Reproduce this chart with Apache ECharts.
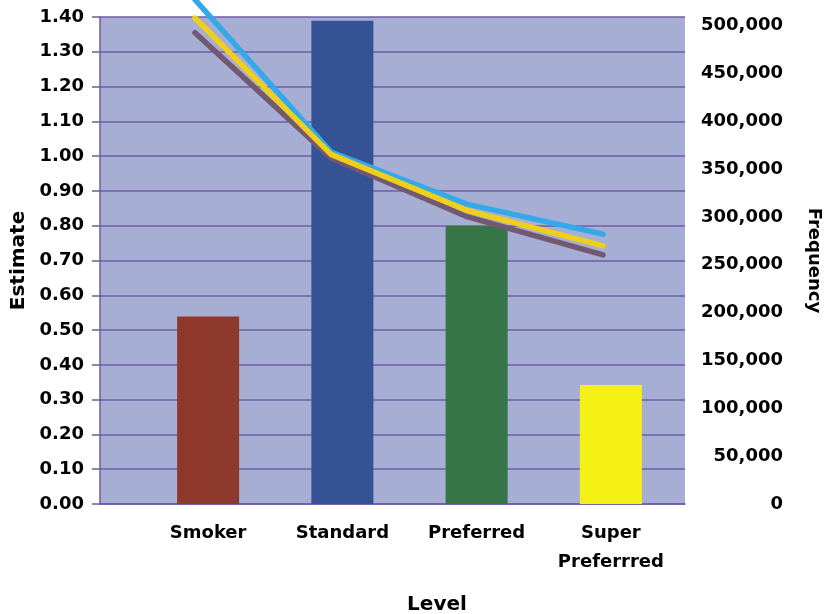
<!DOCTYPE html>
<html>
<head>
<meta charset="utf-8">
<script src="https://cdn.jsdelivr.net/npm/echarts@6/dist/echarts.min.js"></script>
<style>html,body{margin:0;padding:0;background:#fff}#c{width:830px;height:614px}</style>
</head>
<body>
<div id="c"></div>
<script>
const categories = ['Smoker', 'Standard', 'Preferred', 'Super Preferrred'];
const frequency = [196000, 505000, 290500, 124300];
const estimateBlue = [1.45, 1.012, 0.862, 0.776];
const estimateYellow = [1.397, 1.005, 0.844, 0.742];
const estimatePurple = [1.355, 0.995, 0.826, 0.716];
const barColors = ['#8E392B', '#355294', '#367545', '#F5F016'];
const estimateMin = 0, estimateMax = 1.4, estimateStep = 0.1;
const freqMin = 0, freqMax = 509000, freqStep = 50000;

const FONT = 'DejaVu Sans';
const lbl = { fontFamily: FONT, fontWeight: 'bold', fontSize: 18, color: '#000' };

const chart = echarts.init(document.getElementById('c'));
const gTop = 17, gBottom = 110;
const gBase = { top: gTop, bottom: gBottom, containLabel: false, outerBoundsMode: 'none' };
chart.setOption({
  animation: false,
  grid: [
    Object.assign({ left: 100, right: 145, show: true, backgroundColor: '#A7AED4', borderWidth: 0 }, gBase),
    Object.assign({ left: 141, right: 152 }, gBase),
    Object.assign({ left: 195, right: 227 }, gBase)
  ],
  xAxis: [
    { gridIndex: 0, type: 'category', data: categories, boundaryGap: true,
      axisLine: { show: true, lineStyle: { color: '#6D5BA3', width: 1.5 } },
      axisTick: { show: false }, axisLabel: { show: false }, splitLine: { show: false } },
    { gridIndex: 1, type: 'category', data: categories, boundaryGap: true,
      axisLine: { show: false }, axisTick: { show: false },
      axisLabel: Object.assign({}, lbl, { margin: 15, lineHeight: 29, interval: 0,
        formatter: v => v.replace(' ', '\n') }),
      name: 'Level', nameLocation: 'middle', nameGap: 91,
      nameTextStyle: Object.assign({}, lbl, { fontSize: 20, padding: [0, 0, 0, 55] }) },
    { gridIndex: 2, type: 'category', data: categories, boundaryGap: false, show: false }
  ],
  yAxis: [
    { gridIndex: 0, type: 'value', position: 'left', min: estimateMin, max: estimateMax, interval: estimateStep,
      axisLine: { show: true, lineStyle: { color: '#6D5BA3', width: 1.5 } },
      axisTick: { show: true, length: 8, lineStyle: { color: '#6D5BA3', width: 1.5 } },
      splitLine: { show: true, lineStyle: { color: '#6F5DA6', width: 1.5 } },
      axisLabel: Object.assign({}, lbl, { margin: 16, formatter: v => v.toFixed(2) }),
      name: 'Estimate', nameLocation: 'middle', nameGap: 71, nameRotate: 90,
      nameTextStyle: Object.assign({}, lbl, { fontSize: 20 }) },
    { gridIndex: 0, type: 'value', position: 'right', min: freqMin, max: freqMax, interval: freqStep,
      axisLine: { show: false }, axisTick: { show: false }, splitLine: { show: false },
      axisLabel: Object.assign({}, lbl, { margin: 98, align: 'right', showMaxLabel: false,
        formatter: v => v.toLocaleString('en-US') }),
      name: 'Frequency', nameLocation: 'middle', nameGap: 120, nameRotate: -90,
      nameTextStyle: Object.assign({}, lbl) },
    { gridIndex: 1, type: 'value', min: freqMin, max: freqMax, show: false, splitLine: { show: false } },
    { gridIndex: 2, type: 'value', min: estimateMin, max: estimateMax, show: false, splitLine: { show: false } }
  ],
  series: [
    { type: 'bar', xAxisIndex: 1, yAxisIndex: 2, barWidth: 62,
      data: frequency.map((v, i) => ({ value: v, itemStyle: { color: barColors[i] } })) },
    { type: 'line', name: 'Purple', xAxisIndex: 2, yAxisIndex: 3, data: estimatePurple, symbol: 'none',
      lineStyle: { color: '#735872', width: 5.5, cap: 'round', join: 'round' }, clip: false },
    { type: 'line', name: 'Blue', xAxisIndex: 2, yAxisIndex: 3, data: estimateBlue, symbol: 'none',
      lineStyle: { color: '#33A9E9', width: 5.5, cap: 'round', join: 'round' }, clip: false },
    { type: 'line', name: 'Yellow', xAxisIndex: 2, yAxisIndex: 3, data: estimateYellow, symbol: 'none',
      lineStyle: { color: '#EFCF1A', width: 5.5, cap: 'round', join: 'round' }, clip: false }
  ]
});
</script>
</body>
</html>
